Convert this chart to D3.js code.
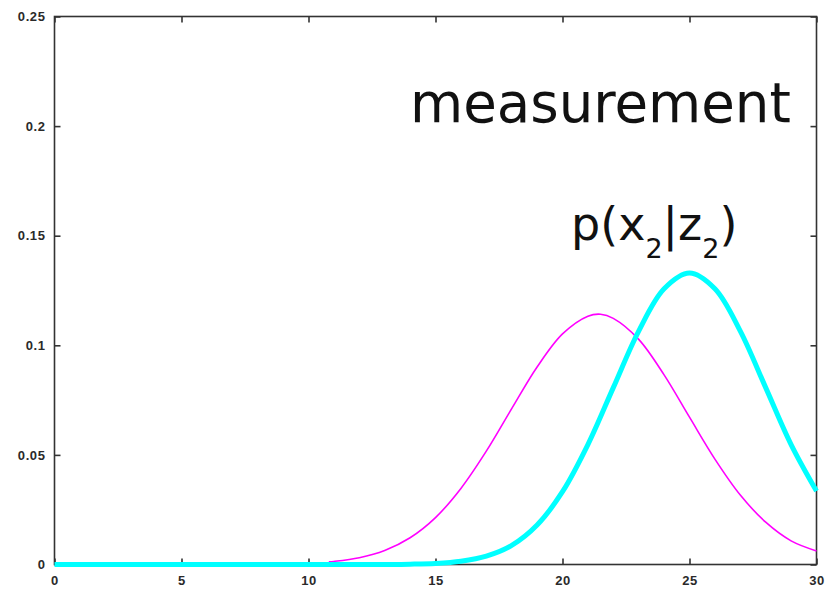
<!DOCTYPE html>
<html>
<head>
<meta charset="utf-8">
<script src="https://cdn.jsdelivr.net/npm/d3@7"></script>
<style>
  html, body { margin: 0; padding: 0; background: #fff; }
  svg { display: block; }
</style>
</head>
<body>
<script>
// ---- data ----
const cyanX = [0,1,2,3,4,5,6,7,8,9,10,11,12,13,14,15,16,17,18,19,20,21,22,23,24,25,26,27,28,29,30];
const cyanValues = [0,0,0,0,0,0,0,0,0,0,0,0,0,0.00004,0.00016,0.0005,0.0015,0.0038,0.0087,0.018,0.0332,0.0547,0.0807,0.1065,0.1258,0.133,0.1258,0.1065,0.0807,0.0547,0.0335];
const magentaX = [10.8,11,12,13,14,15,16,17,18,19,20,21,21.5,22,23,24,25,26,27,28,29,30];
const magentaValues = [0.0012,0.0014,0.0031,0.0064,0.0122,0.0214,0.0347,0.0517,0.0711,0.0901,0.1052,0.1133,0.1142,0.1123,0.1027,0.0865,0.0672,0.0481,0.0317,0.0193,0.0108,0.0062];
const xTickValues = [0,5,10,15,20,25,30];
const xTickLabels = ["0","5","10","15","20","25","30"];
const yTickValues = [0,0.05,0.1,0.15,0.2,0.25];
const yTickLabels = ["0","0.05","0.1","0.15","0.2","0.25"];
const titleText = "measurement";

const W = 826, H = 589;
const mLeft = 54.5, mRight = 816.5, mTop = 16.5, mBottom = 564.5;

const svg = d3.select("body").append("svg").attr("width", W).attr("height", H);
svg.append("rect").attr("width", W).attr("height", H).attr("fill", "#fff");

const x = d3.scaleLinear().domain([0, 30]).range([mLeft, mRight]);
const y = d3.scaleLinear().domain([0, 0.25]).range([mBottom, mTop]);

const axisColor = "#333";

// frame
svg.append("rect")
  .attr("x", mLeft).attr("y", mTop)
  .attr("width", mRight - mLeft).attr("height", mBottom - mTop)
  .attr("fill", "none").attr("stroke", axisColor).attr("stroke-width", 1.6);

// axes with inward ticks
function styleAxis(g) {
  g.select(".domain").remove();
  g.selectAll(".tick line").attr("stroke", axisColor).attr("stroke-width", 1.6);
  g.selectAll(".tick text").attr("fill", "#2a2a2a")
    .style("font-family", "'Liberation Sans', Arial, sans-serif")
    .style("font-weight", "bold")
    .style("font-size", "13px")
    .style("letter-spacing", "0.6px");
}
const bottomAxis = d3.axisBottom(x).tickValues(xTickValues)
  .tickFormat((d, i) => xTickLabels[i]).tickSizeInner(-6).tickPadding(11);
svg.append("g").attr("transform", `translate(0,${mBottom})`).call(bottomAxis).call(styleAxis);

const topAxis = d3.axisTop(x).tickValues(xTickValues).tickFormat("").tickSizeInner(-6);
svg.append("g").attr("transform", `translate(0,${mTop})`).call(topAxis).call(styleAxis);

const leftAxis = d3.axisLeft(y).tickValues(yTickValues)
  .tickFormat((d, i) => yTickLabels[i]).tickSizeInner(-6).tickPadding(9);
svg.append("g").attr("transform", `translate(${mLeft},0)`).call(leftAxis).call(styleAxis);

const rightAxis = d3.axisRight(y).tickValues(yTickValues).tickFormat("").tickSizeInner(-6);
svg.append("g").attr("transform", `translate(${mRight},0)`).call(rightAxis).call(styleAxis);

// curves
const line = d3.line().x(d => x(d[0])).y(d => y(d[1])).curve(d3.curveCatmullRom.alpha(0.5));

svg.append("path")
  .datum(magentaX.map((v, i) => [v, magentaValues[i]]))
  .attr("d", line).attr("fill", "none")
  .attr("stroke", "#ff00ff").attr("stroke-width", 1.6);

svg.append("path")
  .datum(cyanX.map((v, i) => [v, cyanValues[i]]))
  .attr("d", line).attr("fill", "none")
  .attr("stroke", "#00ffff").attr("stroke-width", 5);

// annotations
svg.append("text")
  .attr("x", 410).attr("y", 122)
  .attr("fill", "#111")
  .style("font-family", "'DejaVu Sans', Verdana, sans-serif")
  .style("font-size", "54.6px")
  .text(titleText);

const lab = svg.append("text")
  .attr("x", 571).attr("y", 240)
  .attr("fill", "#111")
  .style("font-family", "'DejaVu Sans', Verdana, sans-serif")
  .style("font-size", "46px");
lab.append("tspan").text("p(x");
lab.append("tspan").attr("dy", 18).style("font-size", "27px").text("2");
lab.append("tspan").attr("dy", -18).text("|z");
lab.append("tspan").attr("dy", 18).style("font-size", "27px").text("2");
lab.append("tspan").attr("dy", -18).text(")");
</script>
</body>
</html>
